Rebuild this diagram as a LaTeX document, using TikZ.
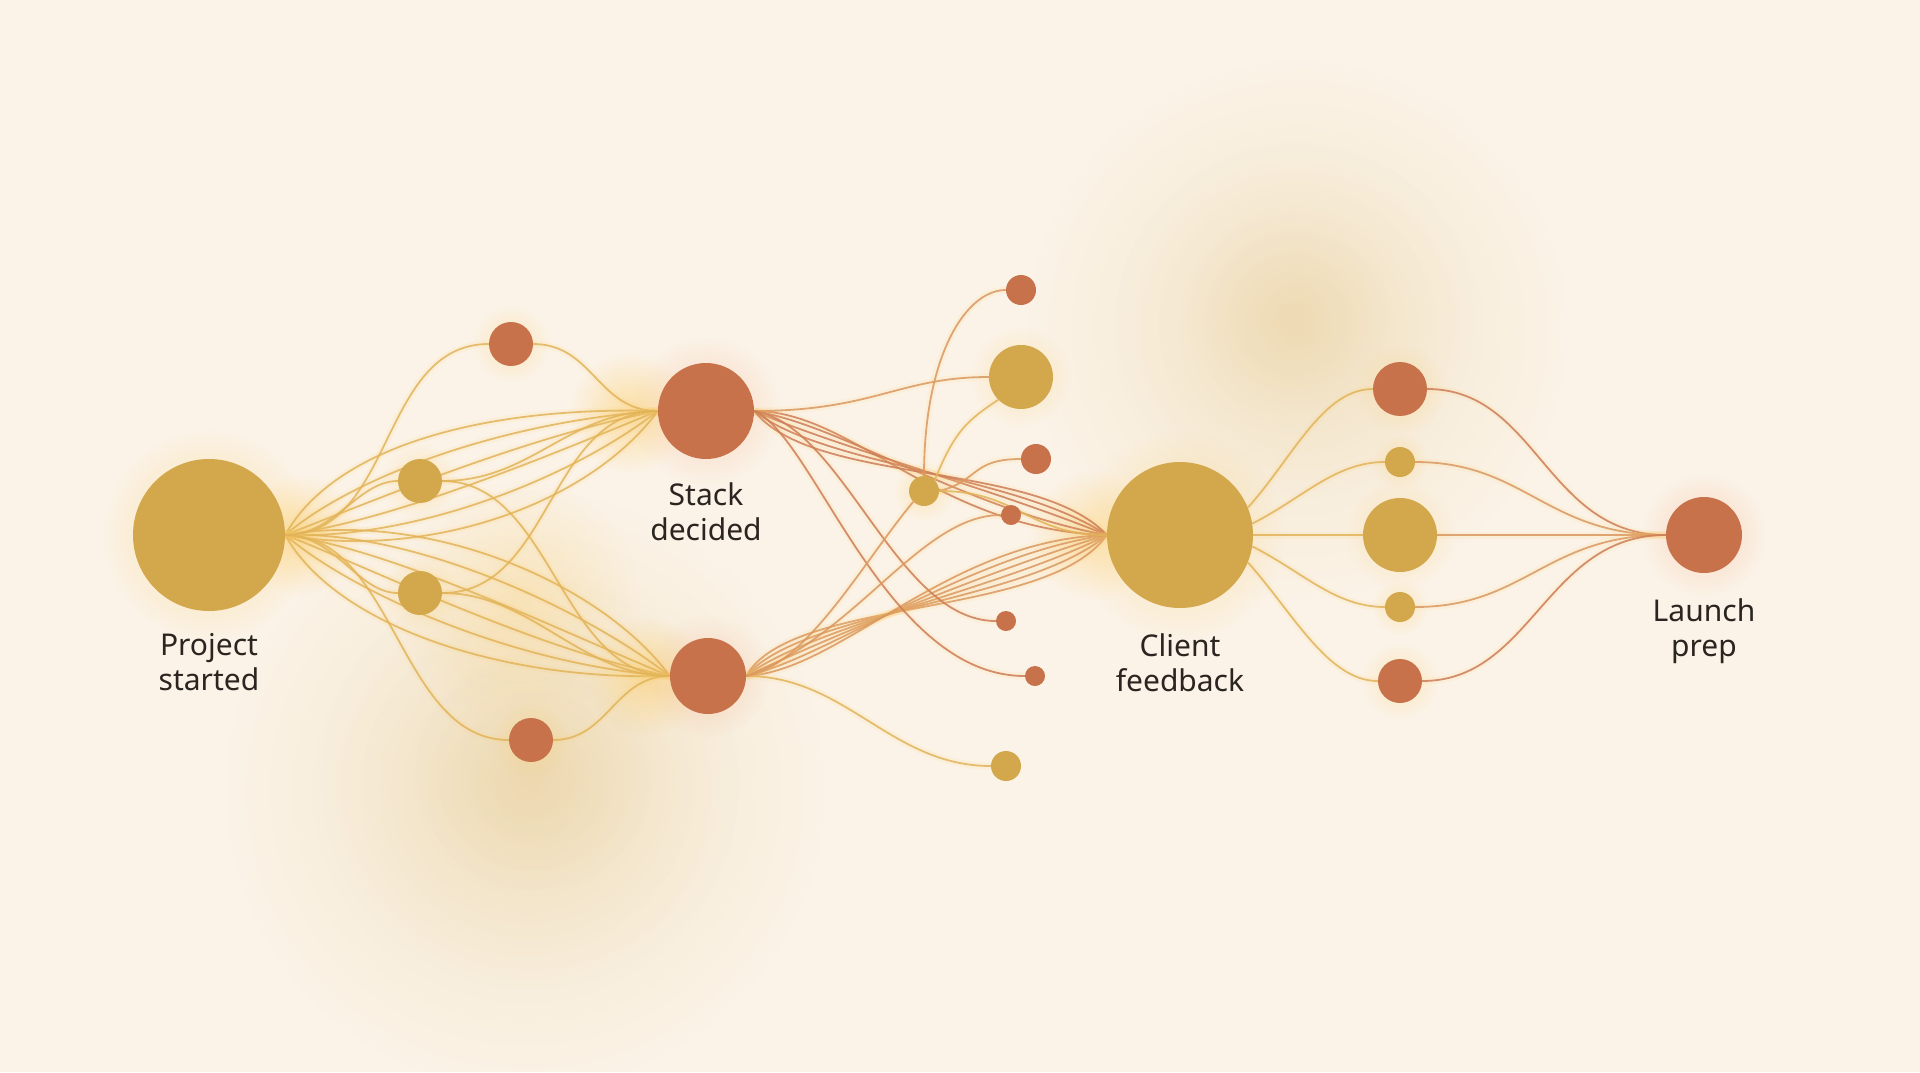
\documentclass[tikz,border=0pt]{standalone}
\usepackage{fontspec}
\setmainfont{Noto Sans}
\usetikzlibrary{fadings}
\tikzfading[name=glowfade, inner color=transparent!0, outer color=transparent!100]
\pgfdeclarelayer{bglayer}
\pgfdeclarelayer{glowlayer}
\pgfdeclarelayer{edgelayer}
\pgfsetlayers{bglayer,glowlayer,edgelayer,main}
\definecolor{bg}{RGB}{251,243,231}
\definecolor{ygold}{RGB}{211,167,76}
\definecolor{rust}{RGB}{199,114,74}
\definecolor{lineY}{RGB}{226,180,90}
\definecolor{lineR}{RGB}{206,125,88}
\definecolor{lineM}{RGB}{218,152,96}
\definecolor{glowY}{RGB}{252,205,105}
\definecolor{glowR}{RGB}{246,160,120}
\definecolor{blob}{RGB}{228,198,135}
\definecolor{ink}{RGB}{42,37,32}
\tikzset{
  dot/.style={circle, inner sep=0pt, minimum size=#1, draw=none},
  ydot/.style={dot=#1, fill=ygold},
  rdot/.style={dot=#1, fill=rust},
  ln/.style={draw=#1, line width=1.8pt, draw opacity=0.85,
    preaction={draw=glowY, line width=7pt, draw opacity=0.10}},
  lbl/.style={font=\fontsize{30}{35}\selectfont, align=center, text=ink, inner sep=0pt, anchor=north},
  glw/.style={fill=#1, path fading=glowfade}
}
\begin{document}
\begin{tikzpicture}[x=1pt,y=-1pt]
\useasboundingbox (0,0) rectangle (1920,1072);
\begin{pgfonlayer}{bglayer}
\fill[bg] (0,0) rectangle (1920,1072);
\end{pgfonlayer}

% main nodes
\node[ydot=152pt] (A) at (209,535) {};
\node[rdot=96pt]  (B) at (706,411) {};
\node[rdot=76pt]  (C) at (708,676) {};
\node[ydot=146pt] (D) at (1180,535) {};
\node[rdot=76pt]  (E) at (1704,535) {};
% left small nodes
\node[rdot=44pt] (L1) at (511,344) {};
\node[ydot=44pt] (L2) at (420,481) {};
\node[ydot=44pt] (L3) at (420,593) {};
\node[rdot=44pt] (L4) at (531,740) {};
% middle small nodes
\node[rdot=30pt] (M1) at (1021,290) {};
\node[ydot=64pt] (M2) at (1021,377) {};
\node[rdot=30pt] (M3) at (1036,459) {};
\node[ydot=30pt] (M4) at (924,491) {};
\node[rdot=20pt] (M5) at (1011,515) {};
\node[rdot=20pt] (M6) at (1006,621) {};
\node[rdot=20pt] (M7) at (1035,676) {};
\node[ydot=30pt] (M8) at (1006,766) {};
% right small nodes
\node[rdot=54pt] (R1) at (1400,389) {};
\node[ydot=30pt] (R2) at (1400,462) {};
\node[ydot=74pt] (R3) at (1400,535) {};
\node[ydot=30pt] (R4) at (1400,607) {};
\node[rdot=44pt] (R5) at (1400,681) {};

% labels
\node[lbl] (tA) at (209,633) {Project\\started};
\node[lbl] (tB) at (706,482) {Stack\\decided};
\node[lbl] (tD) at (1180,633) {Client\\feedback};
\node[lbl] (tE) at (1704,598) {Launch\\prep};

\begin{pgfonlayer}{glowlayer}
  % ambient blobs (stacked for a soft falloff)
  \fill[glw=blob, opacity=0.30] (525,790) circle[radius=300];
  \fill[glw=blob, opacity=0.25] (530,780) circle[radius=210];
  \fill[glw=blob, opacity=0.20] (535,770) circle[radius=120];
  \fill[glw=blob, opacity=0.28] (1298,330) circle[radius=270];
  \fill[glw=blob, opacity=0.22] (1295,320) circle[radius=180];
  \fill[glw=blob, opacity=0.18] (1290,315) circle[radius=100];
  % node halos
  \fill[glw=glowY, opacity=0.5] (A) circle[radius=105];
  \fill[glw=glowR, opacity=0.35] (B) circle[radius=75];
  \fill[glw=glowR, opacity=0.35] (C) circle[radius=62];
  \fill[glw=glowY, opacity=0.45] (D) circle[radius=105];
  \fill[glw=glowR, opacity=0.35] (E) circle[radius=62];
  \fill[glw=glowY, opacity=0.55] (300,535) circle[radius=60];
  \fill[glw=glowY, opacity=0.55] (630,413) circle[radius=60];
  \fill[glw=glowY, opacity=0.55] (645,676) circle[radius=60];
  \fill[glw=glowY, opacity=0.45] (1095,535) circle[radius=65];
  \fill[glw=glowY, opacity=0.30] (520,600) circle[radius=120];
  \foreach \n/\r in {L1/38,L2/38,L3/38,L4/38,M2/50,M4/30,R1/45,R2/28,R3/55,R4/28,R5/38}
    \fill[glw=glowY, opacity=0.35] (\n) circle[radius=\r];
\end{pgfonlayer}

\begin{pgfonlayer}{edgelayer}
  % left section: A -> B and A -> C fans
  \foreach \p/\q/\r/\s in {50/-90/-170/-5, 70/-60/-150/10, 90/-35/-130/25, 110/-15/-110/45, 125/5/-90/70, 140/25/-70/95}
    \draw[ln=lineY] (A.east) .. controls +(\p,\q) and +(\r,\s) .. (B.west);
  \foreach \p/\q/\r/\s in {50/90/-170/5, 70/60/-150/-10, 90/35/-130/-25, 110/15/-110/-45, 125/-5/-90/-70, 140/-25/-70/-95}
    \draw[ln=lineY] (A.east) .. controls +(\p,\q) and +(\r,\s) .. (C.west);
  \draw[ln=lineY] (A.east) .. controls +(110,0) and +(-110,0) .. (L1.west);
  \draw[ln=lineY] (L1.east) .. controls +(60,0) and +(-60,0) .. (B.west);
  \draw[ln=lineY] (A.east) .. controls +(110,0) and +(-110,0) .. (L4.west);
  \draw[ln=lineY] (L4.east) .. controls +(55,0) and +(-55,0) .. (C.west);
  \draw[ln=lineY] (A.east) .. controls +(50,0) and +(-40,0) .. (L2.west);
  \draw[ln=lineY] (A.east) .. controls +(50,0) and +(-40,0) .. (L3.west);
  \draw[ln=lineY] (L2.east) .. controls +(90,0) and +(-90,0) .. (B.west);
  \draw[ln=lineY] (L2.east) .. controls +(110,0) and +(-110,0) .. (C.west);
  \draw[ln=lineY] (L3.east) .. controls +(110,0) and +(-110,0) .. (B.west);
  \draw[ln=lineY] (L3.east) .. controls +(90,0) and +(-90,0) .. (C.west);
  % middle section
  \foreach \p/\q/\r/\s in {100/0/-170/-5, 90/15/-140/-25, 80/35/-110/-45, 70/55/-90/-60, 60/75/-70/-75}
    \draw[ln=lineR] (B.east) .. controls +(\p,\q) and +(\r,\s) .. (D.west);
  \foreach \p/\q/\r/\s in {45/-80/-60/85, 55/-65/-80/68, 65/-50/-100/52, 75/-35/-120/36, 85/-20/-140/20, 95/-5/-160/5}
    \draw[ln=lineM] (C.east) .. controls +(\p,\q) and +(\r,\s) .. (D.west);
  \draw[ln=lineM] (B.east) .. controls +(120,0) and +(-90,0) .. (M2.west);
  \draw[ln=lineR] (B.east) .. controls +(90,15) and +(-100,0) .. (M6.west);
  \draw[ln=lineR] (B.east) .. controls +(60,25) and +(-140,0) .. (M7.west);
  \draw[ln=lineY] (C.east) .. controls +(100,0) and +(-100,0) .. (M8.west);
  \draw[ln=lineM] (C.east) .. controls +(60,-10) and +(-50,60) .. (M4.south west);
  \draw[ln=lineM] (M4.north) .. controls +(0,-120) and +(-40,0) .. (M1.west);
  \draw[ln=lineY] (M4.north east) .. controls +(20,-50) and +(-30,20) .. (M2.south west);
  \draw[ln=lineM] (M4.east) .. controls +(40,-10) and +(-50,0) .. (M3.west);
  \draw[ln=lineM] (C.east) .. controls +(110,-40) and +(-80,0) .. (M5.west);
  \draw[ln=lineY] (M4.east) .. controls +(80,0) and +(-80,0) .. (D.west);
  % right section
  \draw[ln=lineY] (D.22) .. controls +(45,-50) and +(-50,0) .. (R1.west);
  \draw[ln=lineY] (D.9) .. controls +(50,-25) and +(-50,0) .. (R2.west);
  \draw[ln=lineY] (D.east) -- (R3.west);
  \draw[ln=lineY] (D.-9) .. controls +(50,25) and +(-50,0) .. (R4.west);
  \draw[ln=lineY] (D.-22) .. controls +(45,50) and +(-50,0) .. (R5.west);
  \draw[ln=lineR] (R1.east) .. controls +(110,0) and +(-120,0) .. (E.west);
  \draw[ln=lineM] (R2.east) .. controls +(110,0) and +(-120,0) .. (E.west);
  \draw[ln=lineM] (R3.east) -- (E.west);
  \draw[ln=lineM] (R4.east) .. controls +(110,0) and +(-120,0) .. (E.west);
  \draw[ln=lineR] (R5.east) .. controls +(110,0) and +(-120,0) .. (E.west);
\end{pgfonlayer}
\end{tikzpicture}
\end{document}
